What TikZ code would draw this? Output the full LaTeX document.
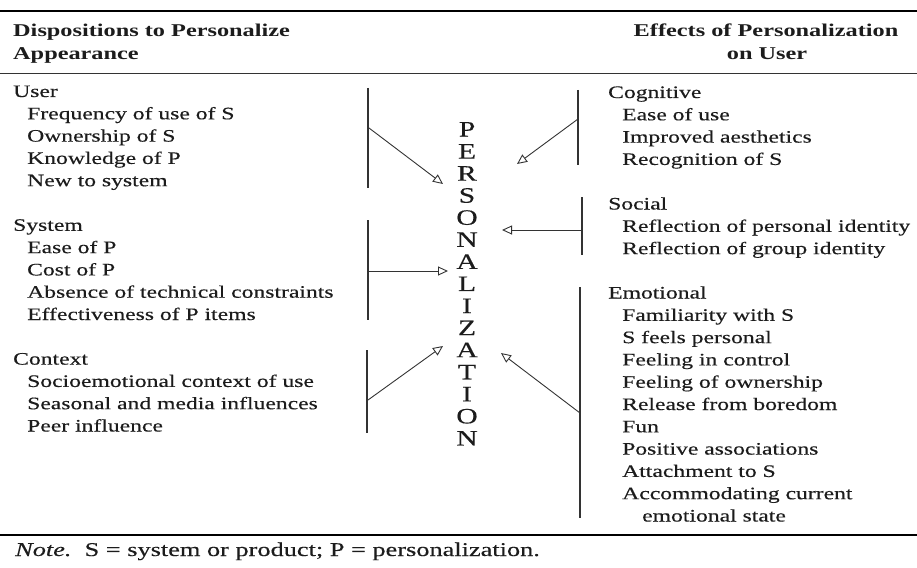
\documentclass[tikz,border=0pt]{standalone}
\usepackage{fontspec}
\setmainfont{Liberation Serif}[FakeStretch=1.35,
  UprightFeatures={FakeBold=0.35}, ItalicFeatures={FakeBold=0.35}]
\usetikzlibrary{arrows.meta}
\definecolor{ink}{HTML}{1C1C1C}
\definecolor{rulec}{HTML}{333333}
\begin{document}
\begin{tikzpicture}[x=1pt,y=-1pt,
  txt/.style={anchor=base west, inner sep=0pt, text=ink, font=\fontsize{17.5}{22.3}\selectfont},
  head/.style={anchor=base, inner sep=0pt, text=ink, font=\fontsize{18}{22}\selectfont\bfseries},
  bigletter/.style={anchor=base, inner sep=0pt, text=ink, font=\fontsize{22}{22}\selectfont},
  bar/.style={draw=rulec, line width=1.1pt},
  flow/.style={draw=rulec, line width=0.9pt, -{Triangle[open, length=10pt, width=9pt]}},
  thickrule/.style={draw=black, line width=2.4pt},
  thinrule/.style={draw=rulec, line width=0.9pt}]
\useasboundingbox (0,0) rectangle (917,567);

% table rules
\coordinate (r1a) at (0,11);   \coordinate (r1b) at (917,11);
\coordinate (r2a) at (0,73);   \coordinate (r2b) at (917,73);
\coordinate (r3a) at (0,535);  \coordinate (r3b) at (917,535);
\draw[thickrule] (r1a) -- (r1b);
\draw[thinrule]  (r2a) -- (r2b);
\draw[thickrule] (r3a) -- (r3b);

% column headings
\node[head, anchor=base west] (hl1) at (13,37) {Dispositions to Personalize};
\node[head, anchor=base west] (hl2) at (13,60) {Appearance};
\node[head] (hr1) at (766,37) {Effects of Personalization};
\node[head] (hr2) at (767,60) {on User};

% left column: dispositions
\node[txt] (user) at (13,97) {User};
\foreach \t [count=\i] in {Frequency of use of S, Ownership of S, Knowledge of P, New to system}
  \node[txt] (user\i) at (27,97+22.3*\i) {\t};
\node[txt] (system) at (13,230.8) {System};
\foreach \t [count=\i] in {Ease of P, Cost of P, Absence of technical constraints, Effectiveness of P items}
  \node[txt] (system\i) at (27,230.8+22.3*\i) {\t};
\node[txt] (context) at (13,364.6) {Context};
\foreach \t [count=\i] in {Socioemotional context of use, Seasonal and media influences, Peer influence}
  \node[txt] (context\i) at (27,364.6+22.3*\i) {\t};

% right column: effects
\node[txt] (cog) at (608,98) {Cognitive};
\foreach \t [count=\i] in {Ease of use, Improved aesthetics, Recognition of S}
  \node[txt] (cog\i) at (622,98+22.3*\i) {\t};
\node[txt] (soc) at (608,209.5) {Social};
\foreach \t [count=\i] in {Reflection of personal identity, Reflection of group identity}
  \node[txt] (soc\i) at (622,209.5+22.3*\i) {\t};
\node[txt] (emo) at (608,298.5) {Emotional};
\foreach \t [count=\i] in {Familiarity with S, S feels personal, Feeling in control, Feeling of ownership, Release from boredom, Fun, Positive associations, Attachment to S, Accommodating current}
  \node[txt] (emo\i) at (622,298.5+22.3*\i) {\t};
\node[txt] (emo10) at (642,521.5) {emotional state};

% central vertical word
\foreach \c [count=\i from 0] in {P,E,R,S,O,N,A,L,I,Z,A,T,I,O,N}
  \node[bigletter] (p\i) at (467,136.5+22.07*\i) {\c};

% grouping bars
\coordinate (lb1t) at (368,88);  \coordinate (lb1b) at (368,188);
\coordinate (lb2t) at (368,220); \coordinate (lb2b) at (368,320);
\coordinate (lb3t) at (367,350); \coordinate (lb3b) at (367,433);
\coordinate (rb1t) at (578,90);  \coordinate (rb1b) at (578,165);
\coordinate (rb2t) at (582,197); \coordinate (rb2b) at (582,255);
\coordinate (rb3t) at (580,287); \coordinate (rb3b) at (580,518);
\foreach \b in {lb1,lb2,lb3,rb1,rb2,rb3}
  \draw[bar] (\b t) -- (\b b);

% arrow ends
\coordinate (a1s) at (369,128);  \coordinate (a1e) at (443,184);
\coordinate (a2s) at (369,271);  \coordinate (a2e) at (448,271);
\coordinate (a3s) at (368,400);  \coordinate (a3e) at (443,346);
\coordinate (a4s) at (578,119);  \coordinate (a4e) at (517,164);
\coordinate (a5s) at (582,230);  \coordinate (a5e) at (502,230);
\coordinate (a6s) at (580,413);  \coordinate (a6e) at (501,353);
\foreach \a in {a1,a2,a3,a4,a5,a6}
  \draw[flow] (\a s) -- (\a e);

% note
\node[txt, font=\fontsize{19.5}{22}\selectfont] (note) at (15,556)
  {\textit{Note.}\ \ S = system or product; P = personalization.};
\end{tikzpicture}
\end{document}
